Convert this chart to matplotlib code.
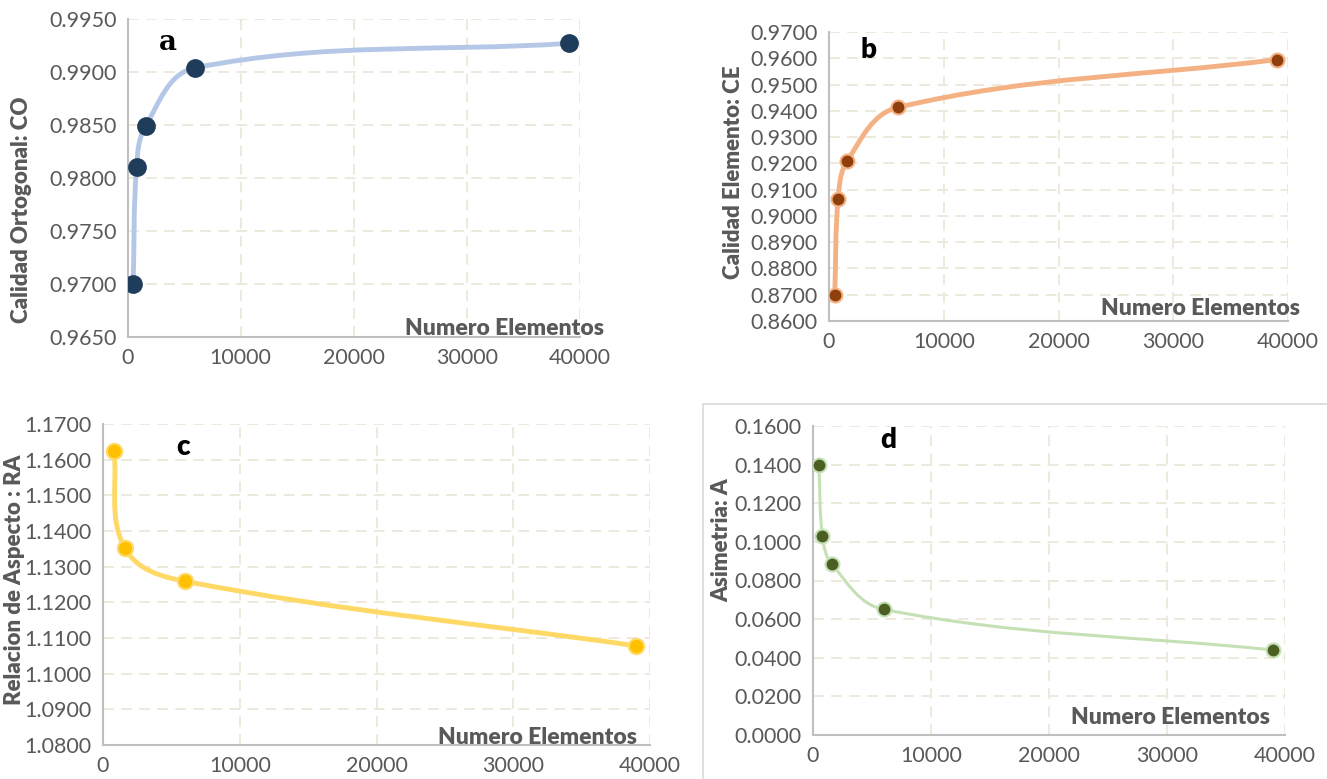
import numpy as np
import matplotlib
matplotlib.use("Agg")
import matplotlib.pyplot as plt
from matplotlib.path import Path
from matplotlib.patches import PathPatch, Rectangle

plt.rcParams["font.family"] = ["Lato", "DejaVu Sans"]

#%% data
elems = [500, 800, 1600, 6000, 39000]
elems_c = [800, 1600, 6000, 39000]

co = [0.9700, 0.9810, 0.9849, 0.9904, 0.9927]
ce = [0.8700, 0.9065, 0.9210, 0.9413, 0.9595]
ra = [1.1625, 1.1352, 1.1259, 1.1078]
asim = [0.1400, 0.1030, 0.0885, 0.0650, 0.0440]

x_ticks = [0, 10000, 20000, 30000, 40000]

W, H = 1327, 779
GREY = "#595959"


def smooth_path(x, y, sx, sy, k=0.36):
    # smoothed line like excel, worked out in pixel space so it does not kink
    p = np.column_stack([np.asarray(x) * sx, np.asarray(y) * sy])
    n = len(p)
    tang = []
    for i in range(n):
        d = p[min(i + 1, n - 1)] - p[max(i - 1, 0)]
        tang.append(d / np.linalg.norm(d))
    verts = [p[0]]
    codes = [Path.MOVETO]
    for i in range(n - 1):
        seg = np.linalg.norm(p[i + 1] - p[i])
        c1 = p[i] + tang[i] * seg * k
        c2 = p[i + 1] - tang[i + 1] * seg * k
        verts += [c1, c2, p[i + 1]]
        codes += [Path.CURVE4] * 3
    verts = np.array(verts) / [sx, sy]
    return Path(verts, codes)


def panel(box, x, y, ylim, ystep, ylabel, ylab_xy, letter, letter_xy,
          xlab_xy, line_c, line_w, mk_c, mk_e, mk_s, letter_font="Lato"):
    l, r, t, b = box
    ax = fig.add_axes([l / W, 1 - b / H, (r - l) / W, (b - t) / H])
    sx = (r - l) / 40000.0
    sy = (b - t) / (ylim[1] - ylim[0])
    ax.add_patch(PathPatch(smooth_path(x, y, sx, sy), fill=False,
                           edgecolor=line_c, lw=line_w, capstyle="round",
                           zorder=3))
    ax.plot(x, y, "o", ms=mk_s, color=mk_c, mec=mk_e, mew=1.5, zorder=4)
    ax.set_xlim(0, 40000)
    ax.set_ylim(*ylim)
    ax.set_xticks(x_ticks)
    ax.set_xticklabels([str(v) for v in x_ticks])
    yt = np.arange(ylim[0], ylim[1] + ystep / 2, ystep)
    ax.set_yticks(yt)
    ax.set_yticklabels([f"{v:.4f}" for v in yt])
    ax.tick_params(length=0, labelsize=15.5, colors=GREY, pad=8)
    ax.grid(True, color="#ECE8DA", ls=(0, (6, 4)), lw=1.3)
    for s in ["top", "right"]:
        ax.spines[s].set_visible(False)
    for s in ["left", "bottom"]:
        ax.spines[s].set_color("#BFBFBF")
        ax.spines[s].set_linewidth(1.5)
    fig.text(ylab_xy[0] / W, 1 - ylab_xy[1] / H, ylabel, rotation=90,
             ha="center", va="center", fontsize=16, fontweight="heavy",
             color=GREY)
    fig.text(xlab_xy[0] / W, 1 - xlab_xy[1] / H, "Numero Elementos",
             ha="right", va="center", fontsize=16.5, fontweight="heavy",
             color=GREY)
    fig.text(letter_xy[0] / W, 1 - letter_xy[1] / H, letter, fontsize=20,
             fontweight="heavy", family=letter_font, ha="center", va="center")
    return ax


fig = plt.figure(figsize=(W / 100, H / 100), dpi=100)

fig.add_artist(Rectangle((703 / W, -0.1), 1.0, 1 - 404 / H + 0.1,
                         transform=fig.transFigure, fill=False,
                         edgecolor="#D9D9D9", lw=1.2))

panel((127.5, 580, 19, 337), elems, co, (0.965, 0.995), 0.005,
      "Calidad Ortogonal: CO", (22, 210), "a", (168, 42), (604, 329),
      "#B4C7E7", 3.5, "#1F3D5A", "#1F3D5A", 12, letter_font="DejaVu Serif")
panel((829, 1288, 32, 321), elems, ce, (0.86, 0.97), 0.01,
      "Calidad Elemento: CE", (733, 172), "b", (868, 50), (1300, 309),
      "#F4B183", 3.5, "#8E3F0B", "#F4B183", 10)
panel((103, 650, 424, 745), elems_c, ra, (1.08, 1.17), 0.01,
      "Relacion de Aspecto : RA", (15, 580), "c", (183, 447), (637, 737),
      "#FFD966", 3.5, "#FFC000", "#FFD966", 11)
panel((813, 1285, 426, 735), elems, asim, (0.0, 0.16), 0.02,
      "Asimetria: A", (722, 540), "d", (888, 440), (1270, 718),
      "#C5E0B4", 2.2, "#4B5F22", "#C5E0B4", 10)

plt.savefig("out.png", dpi=100)
